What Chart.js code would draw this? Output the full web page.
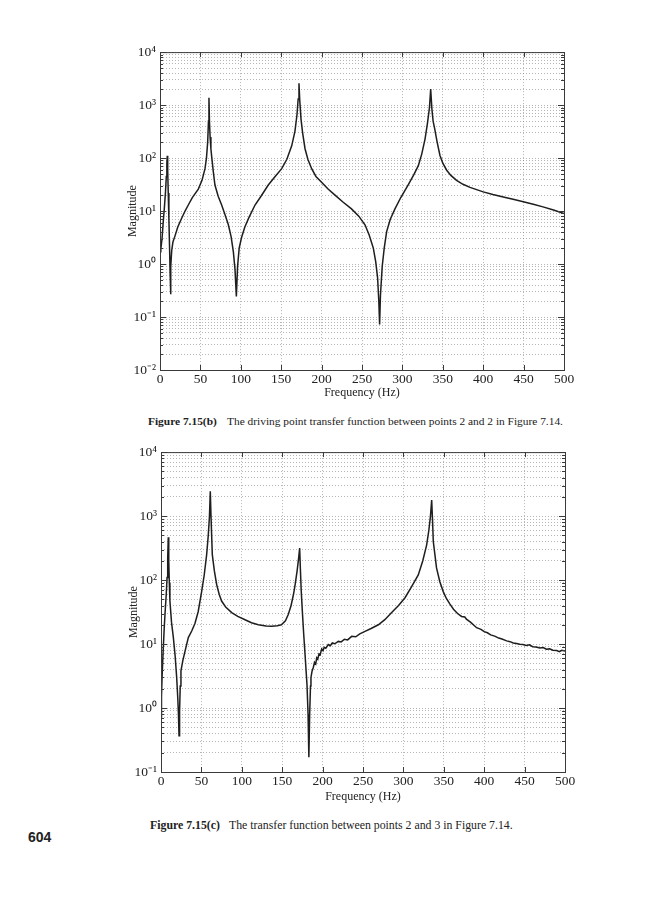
<!DOCTYPE html>
<html>
<head>
<meta charset="utf-8">
<script src="https://cdn.jsdelivr.net/npm/chart.js@4.4.0/dist/chart.umd.min.js"></script>
<style>
  body{margin:0;background:#fff;width:647px;height:900px;position:relative;overflow:hidden;font-family:"Liberation Serif",serif;color:#222;}
  .wrap{position:absolute;width:480px;}
  #w1{left:100px;top:40px;height:360px;}
  #w2{left:101px;top:440px;height:364px;}
  .cap{position:absolute;font-size:11.8px;white-space:nowrap;}
  .cap b{display:inline-block;width:79px;}
  #c1{left:148px;top:415px;font-size:11.4px;}
  #c2{left:150px;top:818px;}
  #page{position:absolute;left:28px;top:829px;font:bold 14px "Liberation Sans",sans-serif;}
</style>
</head>
<body>
<div class="wrap" id="w1"><canvas id="chart1"></canvas></div>
<div class="cap" id="c1"><b>Figure 7.15(b)</b>The driving point transfer function between points 2 and 2 in Figure 7.14.</div>
<div class="wrap" id="w2"><canvas id="chart2"></canvas></div>
<div class="cap" id="c2"><b>Figure 7.15(c)</b>The transfer function between points 2 and 3 in Figure 7.14.</div>
<div id="page">604</div>
<script>
// x ticks shared by both plots
const xTicks = [0,50,100,150,200,250,300,350,400,450,500];

// Figure 7.15(b): driving point 2-2
const freq1 = [0,1,2.5,4,5.5,6.8,7.8,8.5,9,9.5,10.2,11,11.8,12.5,13,13.6,14.5,16,18.6,22,26.8,31,35,40,47.4,52,55.7,57.5,59,60,60.6,61.2,62,63,64,66,68,72,76.3,80.5,84.6,88,90.8,92.8,94.5,96,98,101,105,110,117.6,125,134,142,150.6,157,163,167,169.5,171,172,173,174.5,176.5,179.5,183,187.7,193,200,208,216.6,226,237,246,253.7,259,264,267,269.3,270.8,271.8,272.8,275,277.5,280.5,285,290.8,298,307,314,319.7,324,328,331,333.5,335,336.5,338,340,343,346.5,350,354.8,360,367,375,383.7,400,412,424.8,437,449.6,462,474,487,500];
const mag1 = [1.7,1.9,3.0,6.3,12,23,45,80,110,60,22,7,2.2,0.7,0.27,0.9,1.8,2.6,3.4,5,7.3,10,13,18,26,38,63,100,200,500,1370,500,250,150,105,55,31,19,13,8.5,5.5,3.3,1.7,0.8,0.245,0.9,2.0,3.2,5.0,7.5,13,19,31,44,63,95,170,320,650,1300,2570,1200,550,300,150,95,63,45,35,26,20,15,11,8,5.5,3.5,2.0,1.1,0.55,0.2,0.072,0.25,0.9,2.0,4.1,7,11,18,31,48,72,120,228,450,900,2000,850,500,355,200,112,80,59,47,38,32,28,23,20.5,18.5,16.7,15,13.4,12,10.5,9.0];
const yTicks1 = [1e-2,1e-1,1,10,100,1000,10000];
const yLabels1 = ['10\u207B\u00B2','10\u207B\u00B9','10\u2070','10\u00B9','10\u00B2','10\u00B3','10\u2074'];

// Figure 7.15(c): transfer 2-3
const freq2 = [0,0.6,1.3,2.5,4,5,6.5,7.5,8.3,9,9.6,10.3,11,13,15.3,17.5,19.4,20.8,21.6,22.3,23,23.8,24.7,27,29.7,33.8,38,42,46,50.3,53.5,56.5,58.5,60,61,62,63.5,66,68.9,72,75,80,87.5,95,104,112,120.4,130,137,144,149,154,157.5,161,164,166,168.5,170.5,171.6,172.5,173.5,174.9,176.5,178,180.7,182,183,184,185,185.6,187,188.5,190,191.5,192.7,194,195.5,197,198.9,200.5,202,204,207,209.5,212,215,219.5,223,227,231,236,241,246,252.5,260,269,277,285.5,294,302,310,318.4,324,328.8,331.5,333.5,335,336,337,339,341,345,349.3,353,357.6,362,367,372,376,378,383,390.6,396,400,404,408,413,418,422,427.8,432,436,440,444,448,452,456,460,464,469,473,477,481,485,489.7,493,496,500];
const mag2 = [0.7,1.5,3,7,18,30,60,110,220,465,200,90,48,22,12.6,6.5,3.0,1.4,0.8,0.37,0.9,2.2,3.8,5.5,7.7,12.6,16,21,32,66,120,250,500,1000,2450,900,250,140,85,60,47,38,31,27,24,21.5,20,19.2,19,19.3,20,23,29,40,60,85,140,230,316,150,70,33,15,7.8,2.3,0.8,0.17,0.8,2.2,3.0,3.8,4.3,5.2,4.9,6.1,5.8,7.0,6.8,8.4,7.9,8.9,8.6,9.8,9.4,10.4,10.1,11,10.8,11.9,11.6,13.2,13.0,14.4,15.8,17.5,20,24,31,40,53,78,120,200,355,600,1000,1780,900,400,250,155,95,66,52,42,35,30,27,26.5,24.5,22,18,17,15.6,15.0,13.9,13.3,12.4,12.0,11.2,10.9,10.4,10.2,9.9,9.8,9.5,9.7,9.1,9.0,8.7,8.8,8.3,8.4,8.0,7.9,7.6,8.0,7.8];
const yTicks2 = [1e-1,1,10,100,1000,10000];
const yLabels2 = ['10\u207B\u00B9','10\u2070','10\u00B9','10\u00B2','10\u00B3','10\u2074'];

const serif = {family:'"Liberation Serif", serif', size:12};
const tickFont = {family:'"Liberation Serif", serif', size:13.5};
const isDecade = v => Math.abs(Math.log10(v) - Math.round(Math.log10(v))) < 1e-9;

// box round the plot plus inward tick marks, MATLAB style
const frame = {
  id:'frame',
  afterDraw(chart){
    const {ctx, chartArea:a, scales:{x,y}} = chart;
    ctx.save();
    ctx.strokeStyle = '#3a3a3a'; ctx.lineWidth = 1;
    ctx.strokeRect(a.left+0.5, a.top+0.5, a.right-a.left, a.bottom-a.top);
    ctx.beginPath();
    x.ticks.forEach(t=>{
      const px = Math.round(x.getPixelForValue(t.value))+0.5;
      ctx.moveTo(px,a.bottom); ctx.lineTo(px,a.bottom-5);
      ctx.moveTo(px,a.top); ctx.lineTo(px,a.top+5);
    });
    y.ticks.forEach(t=>{
      const py = Math.round(y.getPixelForValue(t.value))+0.5;
      const l = isDecade(t.value) ? 6 : 3;
      ctx.moveTo(a.left,py); ctx.lineTo(a.left+l,py);
      ctx.moveTo(a.right,py); ctx.lineTo(a.right-l,py);
    });
    ctx.stroke();
    ctx.restore();
  }
};

function minorTicks(decades){
  const out = [];
  decades.forEach((d,i)=>{
    if (i===decades.length-1) { out.push(d); return; }
    for (let k=1;k<10;k++) out.push(d*k);
  });
  return out;
}

function makeChart(id, freq, mag, yTicks, yLabels, axisH){
  const grid = {color:'rgba(110,110,110,0.5)', lineWidth:1, drawTicks:false};
  return new Chart(document.getElementById(id), {
    type:'line',
    data:{ datasets:[{ data: freq.map((f,i)=>({x:f, y:mag[i]})), borderColor:'#1e1e1e', borderWidth:1.5, pointRadius:0, tension:0, fill:false }] },
    options:{
      responsive:true, maintainAspectRatio:false, animation:false,
      layout:{ padding:{top:11, right:16, left:0, bottom:0} },
      plugins:{ legend:{display:false}, tooltip:{enabled:false} },
      scales:{
        x:{
          type:'linear', min:0, max:500,
          afterBuildTicks: s => { s.ticks = xTicks.map(v=>({value:v})); },
          afterFit: s => { s.height = axisH; },
          ticks:{ font:tickFont, color:'#222', padding:1, maxRotation:0, autoSkip:false },
          grid, border:{display:false, dash:[1,2]},
          title:{ display:true, text:'Frequency (Hz)', font:serif, color:'#222', padding:{top:0,bottom:0} }
        },
        y:{
          type:'logarithmic', min:yTicks[0], max:yTicks[yTicks.length-1],
          afterBuildTicks: s => { s.ticks = minorTicks(yTicks).map(v=>({value:v})); },
          afterFit: s => { s.width = 60; },
          ticks:{ font:tickFont, color:'#222', padding:4, autoSkip:false,
            callback: v => { const i = yTicks.findIndex(t=>Math.abs(t-v)/t<1e-6); return i<0 ? '' : yLabels[i]; } },
          grid, border:{display:false, dash:[1,2]},
          title:{ display:true, text:'Magnitude', font:serif, color:'#222', padding:{top:26,bottom:0} }
        }
      }
    },
    plugins:[frame]
  });
}

makeChart('chart1', freq1, mag1, yTicks1, yLabels1, 30);
makeChart('chart2', freq2, mag2, yTicks2, yLabels2, 32);
</script>
</body>
</html>
